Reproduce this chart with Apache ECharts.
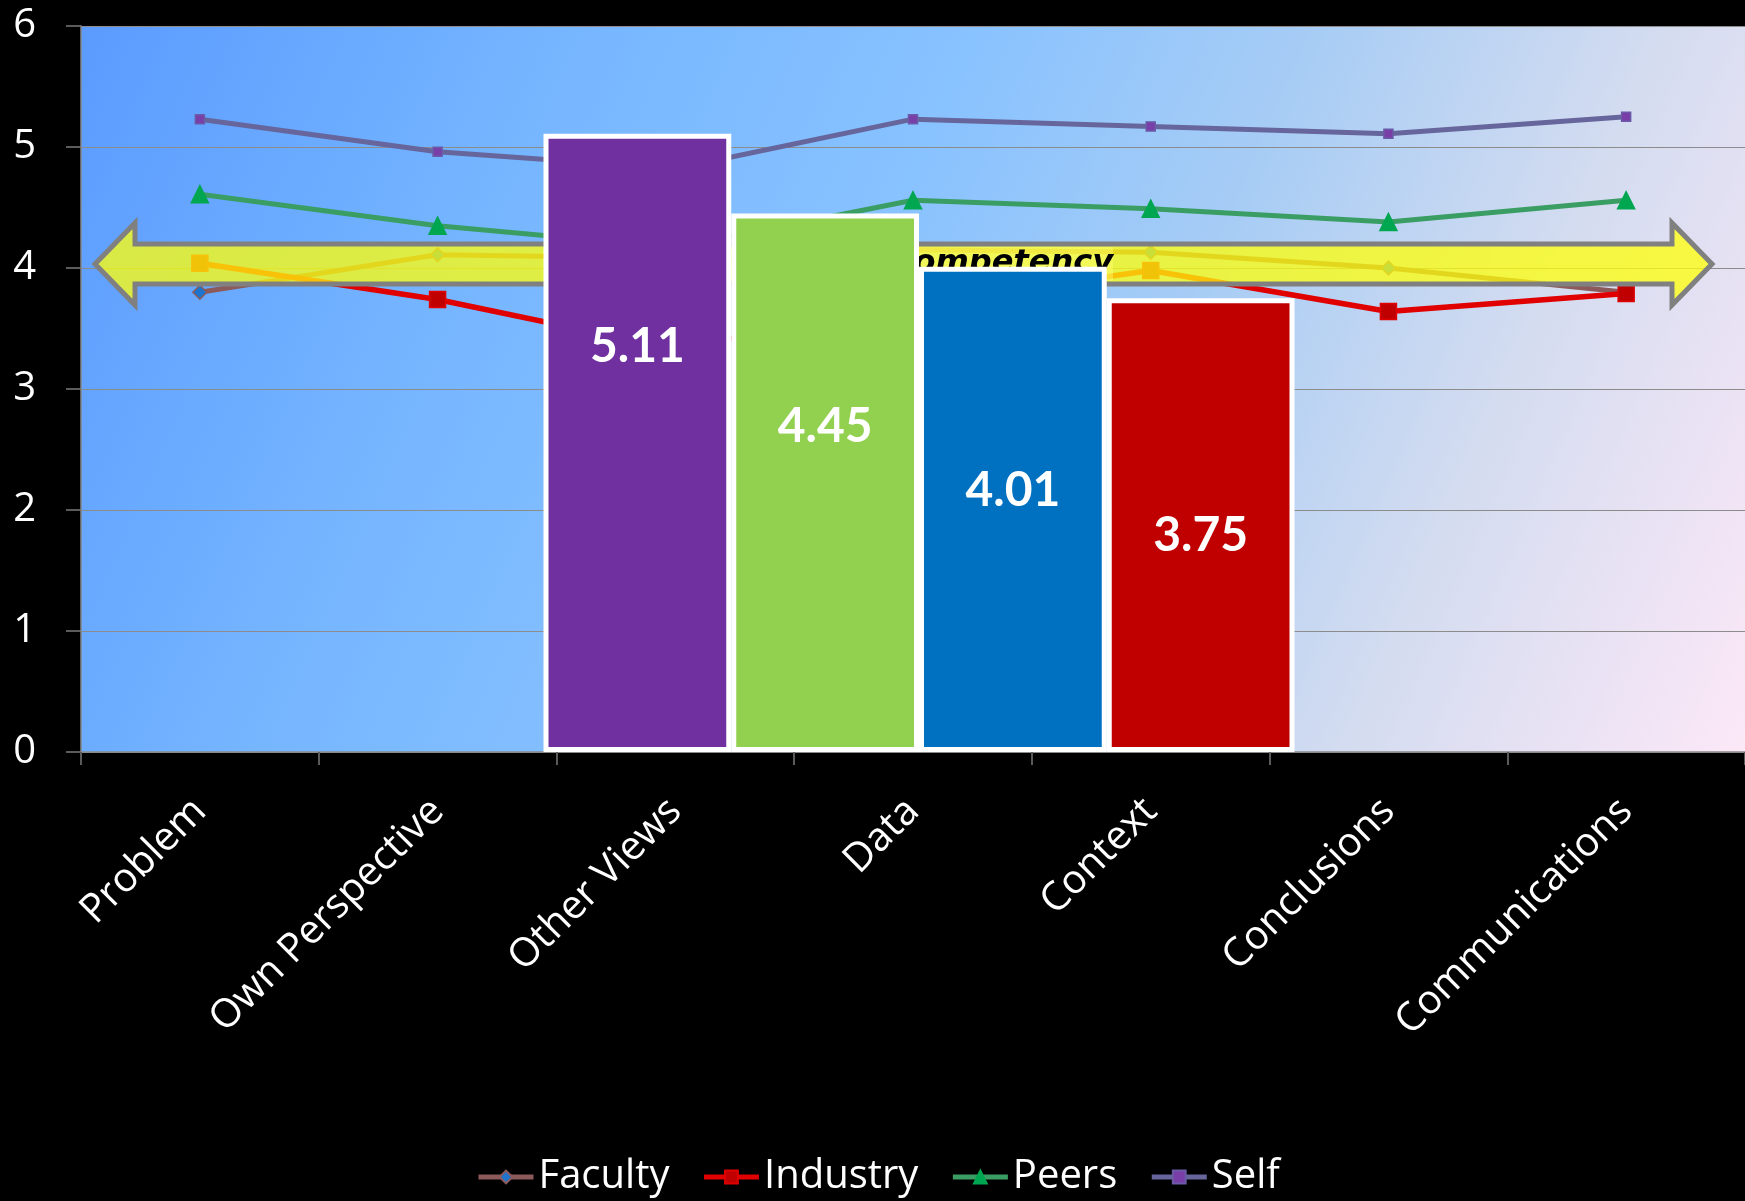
<!DOCTYPE html>
<html>
<head>
<meta charset="utf-8">
<title>Competency ratings by category</title>
<script src="https://cdn.jsdelivr.net/npm/echarts@6/dist/echarts.min.js"></script>
<style>
  html, body { margin: 0; padding: 0; background: #000; }
  #chart { width: 1745px; height: 1201px; }
</style>
</head>
<body>
<div id="chart"></div>
<script>
// ---- data ----
const categories = ['Problem', 'Own Perspective', 'Other Views', 'Data', 'Context', 'Conclusions', 'Communications'];
const faculty  = [3.80, 4.11, 4.08, 4.15, 4.13, 4.00, 3.80];
const industry = [4.04, 3.74, 3.33, 3.70, 3.98, 3.64, 3.79];
const peers    = [4.61, 4.35, 4.17, 4.56, 4.49, 4.38, 4.56];
const self     = [5.23, 4.96, 4.82, 5.23, 5.17, 5.11, 5.25];

// overall averages per rater group, shown as the wide bars
const groupNames = ['Self', 'Peers', 'Faculty', 'Industry'];
const groupAverages = [5.11, 4.45, 4.01, 3.75];

const yMin = 0, yMax = 6, yStep = 1;
const competencyLevel = 4;
const competencyText = 'Competency';

// ---- styling ----
const barColors = ['#7030A0', '#92D050', '#0070C0', '#C00000'];
const barLabelDrop = [213, 213, 224, 237];   // label centre below bar top, px
const uiFont = '"Open Sans", "Noto Sans", sans-serif';

const plotLeft = 81, plotTop = 26, plotBottom = 449;
const barsLeft = 543.5, barsWidth = 751;

const plotFill = {
  type: 'linear', x: 0, y: 0, x2: 1, y2: 1,
  colorStops: [
    { offset: 0.00, color: '#5B9BFF' },
    { offset: 0.25, color: '#76B6FF' },
    { offset: 0.45, color: '#88C2FF' },
    { offset: 0.62, color: '#A6CCF5' },
    { offset: 0.80, color: '#D4DCF0' },
    { offset: 1.00, color: '#FCE8F7' }
  ]
};

function lineSeries(name, values, lineColor, width, symbol, size, fill, border) {
  return {
    name: name,
    type: 'line',
    data: values,
    z: 2,
    symbol: symbol,
    symbolSize: size,
    showSymbol: true,
    lineStyle: { color: lineColor, width: width },
    itemStyle: { color: fill, borderColor: border, borderWidth: 1.5 },
    emphasis: { disabled: true },
    animation: false
  };
}

const chart = echarts.init(document.getElementById('chart'), null, { renderer: 'canvas' });

const option = {
  backgroundColor: '#000000',
  animation: false,
  grid: [
    {
      left: plotLeft, right: 0, top: plotTop, bottom: plotBottom,
      show: true, backgroundColor: plotFill, borderWidth: 0
    },
    {
      left: barsLeft, width: barsWidth, top: plotTop, bottom: plotBottom,
      show: false
    }
  ],
  legend: {
    data: ['Faculty', 'Industry', 'Peers', 'Self'],
    left: 471, top: 1152,
    itemWidth: 55, itemHeight: 16, itemGap: 32,
    lineStyle: { width: 5 },
    textStyle: { color: '#FFFFFF', fontSize: 40, fontFamily: uiFont, padding: [0, 0, 0, 0] },
    selectedMode: false
  },
  xAxis: [
    {
      type: 'category', gridIndex: 0, data: categories, boundaryGap: true,
      axisLine: { show: true, lineStyle: { color: '#8A8A8A', width: 1.5 } },
      axisTick: { show: true, length: 13, lineStyle: { color: '#5A5A5A', width: 2 } },
      axisLabel: {
        rotate: 45, interval: 0, margin: 53,
        color: '#FFFFFF', fontSize: 40, fontFamily: uiFont,
        verticalAlign: 'middle'
      },
      splitLine: { show: false }
    },
    {
      type: 'category', gridIndex: 1, data: groupNames, show: false,
      boundaryGap: true
    }
  ],
  yAxis: [
    {
      type: 'value', gridIndex: 0, min: yMin, max: yMax, interval: yStep,
      axisLine: { show: true, lineStyle: { color: '#868686', width: 1.5 } },
      axisTick: { show: true, length: 15, lineStyle: { color: '#7A7A7A', width: 1.5 } },
      axisLabel: { color: '#FFFFFF', fontSize: 40, fontFamily: uiFont, margin: 45 },
      splitLine: { show: true, lineStyle: { color: '#8C8C8C', width: 1.2 } }
    },
    {
      type: 'value', gridIndex: 1, min: yMin, max: yMax, interval: yStep, show: false,
      splitLine: { show: false }
    }
  ],
  series: [
    lineSeries('Faculty', faculty, '#8C5A5A', 5, 'diamond', 14, '#1E74CC', '#8C5A5A'),
    lineSeries('Industry', industry, '#E00000', 5.5, 'rect', 16, '#C00000', '#E00000'),
    lineSeries('Peers', peers, '#3A9E64', 5, 'triangle', 17, '#00A650', '#00A650'),
    lineSeries('Self', self, '#66669C', 5, 'rect', 9, '#7A3EA8', '#6A5AA8'),
    {
      name: 'Average',
      type: 'bar',
      xAxisIndex: 1, yAxisIndex: 1,
      z: 10,
      barWidth: '100%', barGap: '0%', barCategoryGap: '0%',
      data: groupAverages.map(function (v, i) {
        return {
          value: v,
          itemStyle: { color: barColors[i] },
          label: { position: ['50%', barLabelDrop[i]] }
        };
      }),
      itemStyle: { borderColor: '#FFFFFF', borderWidth: 5 },
      label: {
        show: true,
        align: 'center', verticalAlign: 'middle',
        color: '#FFFFFF', fontSize: 48, fontWeight: 'bold',
        fontFamily: 'Lato, "Open Sans", sans-serif',
        formatter: function (p) { return p.value.toFixed(2); }
      },
      emphasis: { disabled: true },
      animation: false
    }
  ]
};

chart.setOption(option);

// ---- double-headed "Competency" arrow at the competency level ----
const cy = chart.convertToPixel({ yAxisIndex: 0 }, competencyLevel) - 4;
const x0 = plotLeft + 14, x1 = 1712;
const headLen = 40, headHalf = 41, shaftHalf = 20;
const arrowPoints = [
  [x0, cy],
  [x0 + headLen, cy - headHalf],
  [x0 + headLen, cy - shaftHalf],
  [x1 - headLen, cy - shaftHalf],
  [x1 - headLen, cy - headHalf],
  [x1, cy],
  [x1 - headLen, cy + headHalf],
  [x1 - headLen, cy + shaftHalf],
  [x0 + headLen, cy + shaftHalf],
  [x0 + headLen, cy + headHalf]
];

chart.setOption({
  graphic: [
    {
      type: 'polygon',
      z: 3,
      silent: true,
      shape: { points: arrowPoints },
      style: {
        fill: 'rgba(255, 255, 10, 0.76)',
        stroke: '#808080',
        lineWidth: 5,
        lineJoin: 'miter'
      }
    },
    {
      type: 'text',
      z: 4,
      silent: true,
      x: 1113,
      y: cy,
      style: {
        text: competencyText,
        fill: '#000000',
        font: 'italic bold 32px "DejaVu Sans", sans-serif',
        align: 'right',
        verticalAlign: 'middle',
        backgroundColor: 'rgba(255, 255, 110, 0.45)',
        padding: [2, 0, 0, 4]
      }
    }
  ]
});
</script>
</body>
</html>
